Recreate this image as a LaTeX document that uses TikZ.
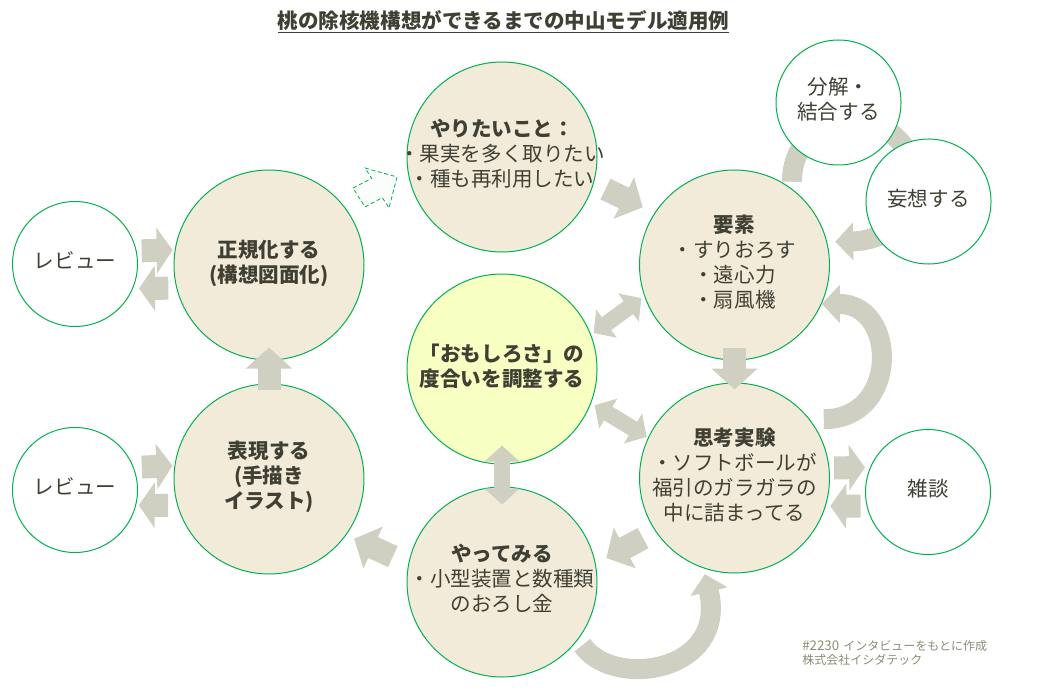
\documentclass[tikz,border=0pt]{standalone}
\usepackage{fontspec}
\usepackage{tikz}
\usetikzlibrary{arrows.meta,backgrounds}
\setmainfont{Noto Sans CJK JP}

\definecolor{nodegreen}{HTML}{00B050}
\definecolor{nodecream}{HTML}{F3EBD9}
\definecolor{nodeyellow}{HTML}{F8FFC2}
\definecolor{arrowgrey}{HTML}{CFD0C2}
\definecolor{textdark}{HTML}{3F3F33}
\definecolor{notegrey}{HTML}{8C8C78}

\newcommand{\oneline}[1]{\makebox[0pt]{\raisebox{-3.6pt}[0pt][0pt]{#1}}}

\tikzset{
    bodytext/.style={text=textdark,align=center,font=\fontsize{15.4}{18.75}\selectfont},
    bigcircle/.style={circle,draw=nodegreen,line width=0.75pt,fill=nodecream,minimum size=142.5pt,inner sep=0pt,bodytext},
    smallcircle/.style={bigcircle,fill=white,minimum size=93.75pt},
    trim/.style 2 args={shorten <=#1*0.75pt,shorten >=#2*0.75pt},
    fatarrow/.style={draw=arrowgrey,line width=17.25pt,-{Triangle[length=15.75pt,width=33.75pt]}},
    sidearrow/.style={draw=arrowgrey,line width=17.25pt,-{Triangle[length=12pt,width=33.75pt]}},
    bothways/.style={draw=arrowgrey,line width=12pt,{Triangle[length=12pt,width=25.5pt]}-{Triangle[length=12pt,width=25.5pt]}},
    curvearrow/.style={draw=arrowgrey,line width=15pt,-{Triangle[length=13.5pt,width=27.75pt]}},
    hintarrow/.style={draw=nodegreen,dash pattern=on 3pt off 2pt,line width=0.6pt,fill=nodegreen!2},
}

\begin{document}
\begin{tikzpicture}[x=0.75pt,y=-0.75pt]
    \useasboundingbox (0,0) rectangle (1038,688);

    \node[bodytext,font=\fontsize{15.4}{18.75}\selectfont\bfseries] (title) at (503.5,22) {\underline{桃の除核機構想ができるまでの中山モデル適用例}};

    \node[bigcircle] (yaritai) at (502,157) {\oneline{\textbf{やりたいこと：}}\\\oneline{・果実を多く取りたい}\\\oneline{・種も再利用したい}};
    \node[bigcircle] (yoso) at (734.5,265) {\oneline{\textbf{要素}}\\\oneline{・すりおろす}\\\oneline{・遠心力}\\\oneline{・扇風機}};
    \node[bigcircle] (shikou) at (734.5,478) {\oneline{\textbf{思考実験}}\\\oneline{・ソフトボールが}\\\oneline{福引のガラガラの}\\\oneline{中に詰まってる}};
    \node[bigcircle] (yatte) at (502,582) {\oneline{\textbf{やってみる}}\\\oneline{・小型装置と数種類}\\\oneline{のおろし金}};
    \node[bigcircle] (hyogen) at (269,479) {\oneline{\textbf{表現する}}\\\oneline{\textbf{(手描き}}\\\oneline{\textbf{イラスト)}}};
    \node[bigcircle] (seiki) at (269,265) {\oneline{\textbf{正規化する}}\\\oneline{\textbf{(構想図面化)}}};
    \node[bigcircle,fill=nodeyellow] (omoshiro) at (502,369) {\oneline{\textbf{「おもしろさ」の}}\\\oneline{\textbf{度合いを調整する}}};

    \node[smallcircle] (bunkai) at (838.5,102.5) {\oneline{分解・}\\\oneline{結合する}};
    \node[smallcircle] (mousou) at (928.5,201.5) {\oneline{妄想する}};
    \node[smallcircle] (zatsudan) at (928,492) {\oneline{雑談}};
    \node[smallcircle] (reviewa) at (75,264) {\oneline{レビュー}};
    \node[smallcircle] (reviewb) at (75,490) {\oneline{レビュー}};

    % this one runs behind the small circles
    \coordinate (loopturn) at (914,182);
    \begin{scope}[on background layer]
    \draw[curvearrow,trim={7}{8}] (yoso.53) .. controls +(0,-88) and +(0,-81) .. (loopturn) .. controls +(0,42) and (880,241) .. (yoso.14);
    \end{scope}

    \draw[fatarrow,trim={13}{13}] (yaritai.-16) -- (yoso.147.5);
    \draw[fatarrow,trim={-13}{-7}] (yoso.south) -- (shikou.north);
    \draw[fatarrow,trim={14}{12}] (shikou.214.2) -- (yatte.11.4);
    \draw[fatarrow,trim={17}{8.6}] (yatte.169.2) -- (hyogen.-36.8);
    \draw[fatarrow,trim={-6}{-13}] (hyogen.north) -- (seiki.south);

    \draw[sidearrow,trim={5}{2}] (reviewa.12) -- (seiki.171.5);
    \draw[sidearrow,trim={8}{6}] (seiki.194.6) -- (reviewa.-23.6);
    \draw[sidearrow,trim={8}{2}] (reviewb.21.6) -- (hyogen.172.7);
    \draw[sidearrow,trim={9}{2.6}] (hyogen.196.5) -- (reviewb.-14.8);
    \draw[sidearrow,trim={4.5}{5}] (shikou.6) -- (zatsudan.157.4);
    \draw[sidearrow,trim={6}{4.5}] (zatsudan.193.9) -- (shikou.-17.8);

    \draw[bothways,trim={3}{3.5}] (omoshiro.21.6) -- (yoso.199.5);
    \draw[bothways,trim={4}{1.5}] (omoshiro.-21.9) -- (shikou.155.6);
    \draw[bothways,trim={-19}{-18}] (omoshiro.south) -- (yatte.north);

    \draw[curvearrow,trim={14}{0}] (shikou.38) .. controls +(90,0) and +(76,0) .. (yoso.-24.4);
    \draw[curvearrow,trim={7}{6}] (yatte.-37) .. controls (614,690) and (728,672) .. (shikou.251.6);

    \draw[hintarrow] (353,188) -- (371.7,178.4) -- (365,168) -- (397,177) -- (389,208) -- (382.3,197.6) -- (365,207) -- cycle;

    %\node[bodytext] at (880,640) {};
    \node[anchor=north west,inner sep=0pt,align=left,text=notegrey,font=\fontsize{9}{10.5}\selectfont] (note) at (802,640) {\makebox[30.75pt][l]{\fontsize{10}{10.5}\selectfont\#2230}インタビューをもとに作成\\株式会社イシダテック};
\end{tikzpicture}
\end{document}
